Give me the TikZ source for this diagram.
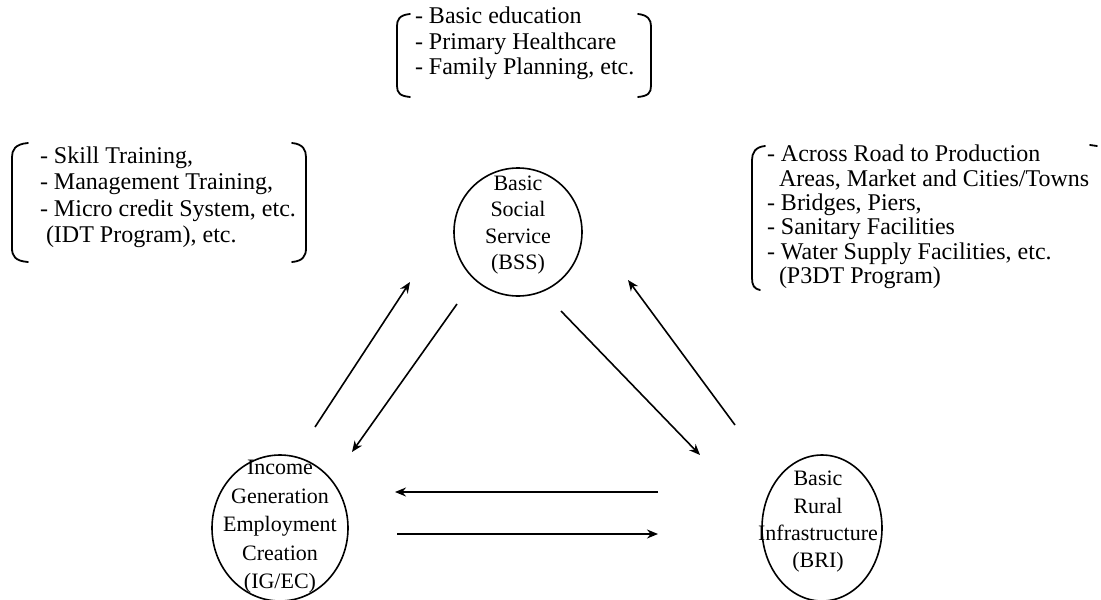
\documentclass[tikz,border=0pt]{standalone}
\usepackage{fontspec}
\setmainfont{Liberation Serif}
\usetikzlibrary{arrows.meta,shapes.geometric}
\begin{document}
\begin{tikzpicture}[x=1pt,y=-1pt,
  every node/.style={inner sep=0pt,outer sep=0pt},
  hub/.style={ellipse,draw,line width=1.6pt},
  hubtext/.style={align=center,font=\fontsize{22}{#1}\selectfont},
  listtext/.style={align=left,anchor=north west,font=\fontsize{24}{#1}\selectfont},
  brk/.style={line width=1.8pt,line cap=round},
  arr/.style={line width=1.6pt,-{Stealth[length=11pt,width=9pt]}}]
\useasboundingbox (0,0) rectangle (1101,600);
% circles
\node[hub,minimum width=128pt,minimum height=128pt] (bss) at (518,232) {};
\node[hub,minimum width=136pt,minimum height=146pt] (ig) at (280,528) {};
\node[hub,minimum width=120pt,minimum height=146pt] (bri) at (822,528) {};
\node[hubtext=26.3] (bsst) at (518,225) {Basic\\Social\\Service\\(BSS)};
\node[hubtext=28.5] (igt) at (280,527) {Income\\Generation\\Employment\\Creation\\(IG/EC)};
\node[hubtext=27.3] (brit) at (818,522) {Basic\\Rural\\Infrastructure\\(BRI)};
% lists
\node[listtext=25.5] (top) at (415,7) {- Basic education\\- Primary Healthcare\\- Family Planning, etc.};
\node[listtext=26.3] (left) at (40,147) {- Skill Training,\\- Management Training,\\- Micro credit System, etc.\\\ (IDT Program), etc.};
\node[listtext=24.4] (right) at (767,145) {- Across Road to Production\\\ \ Areas, Market and Cities/Towns\\- Bridges, Piers,\\- Sanitary Facilities\\- Water Supply Facilities, etc.\\\ \ (P3DT Program)};
% brackets
\draw[brk] (410,14) .. controls (399,15) and (397,20) .. (397,26) -- (397,86) .. controls (397,93) and (400,96) .. (410,97);
\draw[brk] (638,14) .. controls (648,15) and (651,20) .. (651,26) -- (651,86) .. controls (651,93) and (648,96) .. (638,97);
\draw[brk] (28,143) .. controls (15,144) and (12,150) .. (12,157) -- (12,248) .. controls (12,256) and (15,261) .. (28,262);
\draw[brk] (292,143) .. controls (303,144) and (306,150) .. (306,157) -- (306,248) .. controls (306,256) and (303,261) .. (292,262);
\draw[brk] (765,146) .. controls (755,147) and (752,153) .. (752,160) -- (752,278) .. controls (752,285) and (754,289) .. (760,290);
\draw[brk] (1090,145) -- (1097,146);
% arrows
\draw[arr] ([shift={(35,-101)}]ig.center) -- ([shift={(-108,50)}]bss.center);
\draw[arr] ([shift={(-61,72)}]bss.center) -- ([shift={(72,-76)}]ig.center);
\draw[arr] ([shift={(43,79)}]bss.center) -- ([shift={(-122,-73)}]bri.center);
\draw[arr] ([shift={(-87,-103)}]bri.center) -- ([shift={(110,48)}]bss.center);
\draw[arr] ([shift={(-164,-36)}]bri.center) -- ([shift={(115,-36)}]ig.center);
\draw[arr] ([shift={(117,6)}]ig.center) -- ([shift={(-164,6)}]bri.center);
\end{tikzpicture}
\end{document}
